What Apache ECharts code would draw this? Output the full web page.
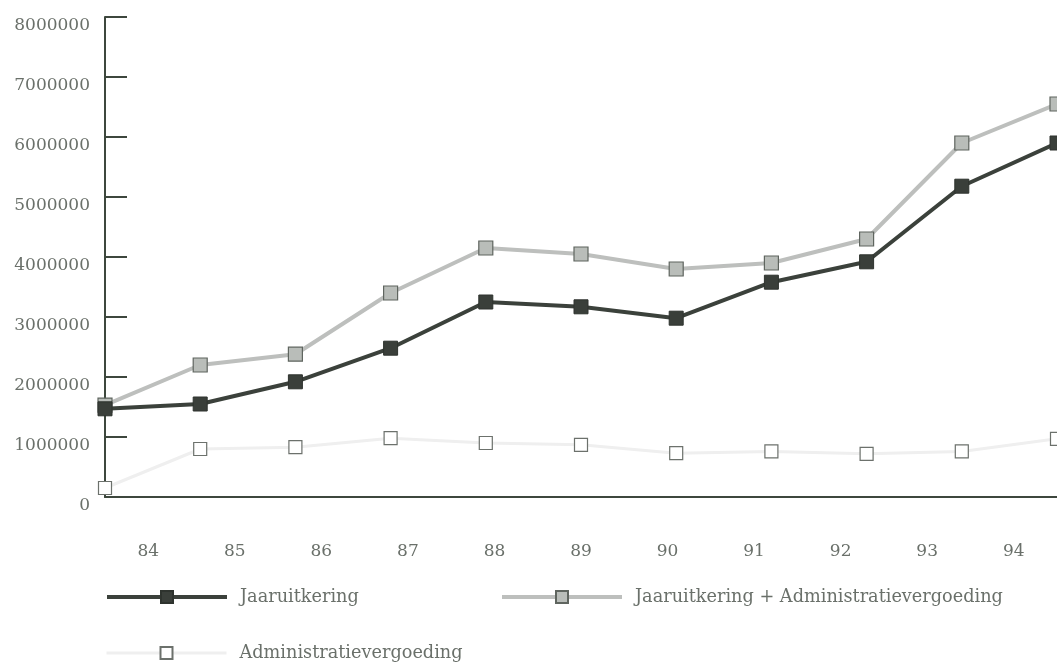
<!DOCTYPE html>
<html>
<head>
<meta charset="utf-8">
<script src="https://cdn.jsdelivr.net/npm/echarts@6/dist/echarts.min.js"></script>
<style>html,body{margin:0;padding:0;background:#fff}#c{width:1057px;height:663px}</style>
</head>
<body>
<div id="c"></div>
<script>
const categories = ['84','85','86','87','88','89','90','91','92','93','94'];
const years = [84,85,86,87,88,89,90,91,92,93,94];
const jaaruitkering = [1470000,1550000,1920000,2480000,3250000,3170000,2980000,3580000,3920000,5180000,5900000];
const totaal = [1530000,2200000,2380000,3400000,4150000,4050000,3800000,3900000,4300000,5900000,6550000];
const admin = [150000,800000,830000,980000,900000,870000,730000,760000,720000,760000,970000];
const yTicks = ['0','1000000','2000000','3000000','4000000','5000000','6000000','7000000','8000000'];
const names = ['Jaaruitkering','Jaaruitkering + Administratievergoeding','Administratievergoeding'];

const FONT = 'DejaVu Serif';
const TXT = '#6a706a';
const AX = '#3d473d';
const pairs = arr => years.map((y,i)=>[y,arr[i]]);

const chart = echarts.init(document.getElementById('c'));
const legendBase = {
  orient:'horizontal', itemWidth:120, itemHeight:15, padding:0,
  textStyle:{fontFamily:FONT, fontSize:17.7, color:TXT, padding:[0,0,0,8]}
};
chart.setOption({
  animation:false,
  grid:{left:105, right:0, top:17, bottom:166, containLabel:false},
  legend:[
    Object.assign({}, legendBase, {left:105, top:588, data:[{name:names[0], lineStyle:{width:4}}]}),
    Object.assign({}, legendBase, {left:500, top:588, data:[{name:names[1], lineStyle:{width:4}}]}),
    Object.assign({}, legendBase, {left:105, top:644, data:[{name:names[2], lineStyle:{width:3}}]})
  ],
  xAxis:[
    {type:'category', data:categories, boundaryGap:true,
     axisLine:{lineStyle:{color:AX, width:2}},
     axisTick:{inside:true, length:10, lineStyle:{color:AX, width:2}},
     axisLabel:{fontFamily:FONT, fontSize:17, color:TXT, margin:46},
     splitLine:{show:false}},
    {type:'value', min:84, max:94, show:false}
  ],
  yAxis:{type:'value', min:0, max:8000000, interval:1000000,
     axisLine:{show:true, lineStyle:{color:AX, width:2}},
     axisTick:{show:true, inside:true, length:22, lineStyle:{color:AX, width:2}},
     splitLine:{show:false},
     axisLabel:{fontFamily:FONT, fontSize:17, color:TXT, margin:15,
       verticalAlign:'top',
       formatter:(v)=>yTicks[Math.round(v/1000000)]}},
  series:[
    {name:names[2], type:'line', xAxisIndex:1, data:pairs(admin), z:2,
     symbol:'rect', symbolSize:13,
     lineStyle:{color:'#efefef', width:3},
     itemStyle:{color:'#ffffff', borderColor:'#6c716c', borderWidth:1.2}},
    {name:names[1], type:'line', xAxisIndex:1, data:pairs(totaal), z:3,
     symbol:'rect', symbolSize:14,
     lineStyle:{color:'#bdbfbd', width:4},
     itemStyle:{color:'#b9bdb9', borderColor:'#5f655f', borderWidth:1.2}},
    {name:names[0], type:'line', xAxisIndex:1, data:pairs(jaaruitkering), z:4,
     symbol:'rect', symbolSize:14,
     lineStyle:{color:'#3b413b', width:4},
     itemStyle:{color:'#3a3f3a', borderColor:'#2e332e', borderWidth:1}}
  ]
});
</script>
</body>
</html>
